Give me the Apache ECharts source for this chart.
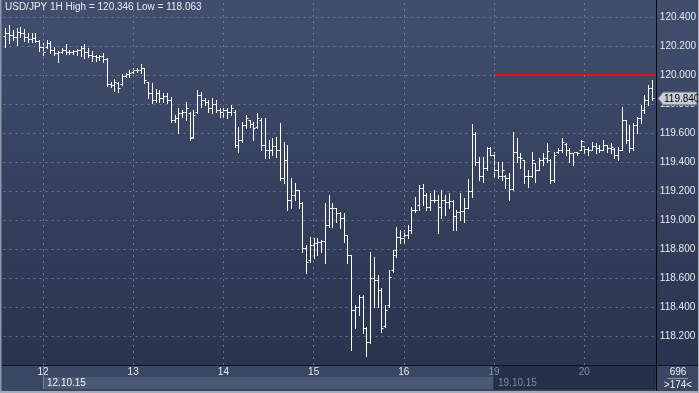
<!DOCTYPE html>
<html><head><meta charset="utf-8">
<script src="https://cdn.jsdelivr.net/npm/echarts@6/dist/echarts.min.js"></script>
<style>html,body{margin:0;padding:0;background:#2f3b57;overflow:hidden}#c{width:699px;height:393px}</style>
</head><body><div id="c"></div>
<script>
// ---- data (USD/JPY 1H) ----
const symbol = 'USD/JPY';
const timeframe = '1H';
const opens = [120.272,120.292,120.278,120.265,120.299,120.292,120.265,120.251,120.258,120.237,
120.196,120.196,120.223,120.175,120.154,120.161,120.175,120.161,120.161,120.168,
120.175,120.189,120.161,120.140,120.134,120.127,120.134,120.113,119.940,119.933,
119.947,119.940,119.995,120.009,120.023,120.037,120.037,120.051,119.954,119.878,
119.830,119.878,119.844,119.858,119.830,119.692,119.706,119.740,119.747,119.740,
119.575,119.747,119.865,119.830,119.816,119.775,119.802,119.761,119.747,119.761,
119.747,119.747,119.520,119.554,119.658,119.692,119.664,119.644,119.692,119.520,
119.485,119.485,119.513,119.485,119.292,119.416,119.140,119.175,119.209,119.119,
118.809,118.726,118.830,118.843,118.850,118.857,118.968,119.085,119.085,119.050,
119.016,118.898,118.760,118.381,118.401,118.471,118.257,118.160,118.602,118.588,
118.519,118.270,118.416,118.657,118.795,118.885,118.878,118.898,118.933,119.071,
119.105,119.223,119.175,119.092,119.140,119.140,119.092,119.140,119.126,119.133,
119.030,119.057,119.064,119.085,119.202,119.595,119.402,119.306,119.361,119.499,
119.450,119.347,119.306,119.306,119.292,119.216,119.471,119.437,119.416,119.306,
119.306,119.395,119.347,119.416,119.430,119.416,119.278,119.471,119.485,119.526,
119.485,119.464,119.471,119.485,119.513,119.492,119.485,119.513,119.499,119.485,
119.519,119.499,119.492,119.450,119.485,119.692,119.554,119.499,119.658,119.706,
119.761,119.830,119.913];
const highs = [120.327,120.346,120.313,120.327,120.333,120.319,120.292,120.292,120.292,120.244,
120.223,120.244,120.237,120.196,120.168,120.189,120.216,120.175,120.175,120.182,
120.203,120.216,120.189,120.168,120.140,120.140,120.154,120.120,119.954,119.975,
119.954,120.009,120.016,120.037,120.051,120.051,120.078,120.051,119.954,119.947,
119.906,119.899,119.878,119.878,119.851,119.727,119.775,119.761,119.816,119.747,
119.761,119.899,119.885,119.844,119.830,119.844,119.830,119.775,119.775,119.775,
119.796,119.761,119.644,119.678,119.727,119.692,119.678,119.740,119.706,119.706,
119.554,119.568,119.575,119.671,119.540,119.519,119.292,119.257,119.209,119.126,
118.830,118.885,118.878,118.878,118.864,119.119,119.175,119.119,119.085,119.057,
119.050,118.898,118.760,118.416,118.485,118.485,118.264,118.781,118.747,118.622,
118.533,118.416,118.657,118.795,118.954,118.933,118.933,118.968,119.092,119.161,
119.243,119.250,119.188,119.188,119.209,119.175,119.209,119.175,119.188,119.140,
119.071,119.188,119.154,119.285,119.664,119.609,119.437,119.437,119.506,119.506,
119.471,119.402,119.402,119.313,119.326,119.609,119.568,119.464,119.416,119.347,
119.471,119.395,119.430,119.464,119.533,119.423,119.471,119.499,119.568,119.533,
119.499,119.464,119.471,119.554,119.513,119.506,119.540,119.533,119.519,119.554,
119.519,119.533,119.499,119.506,119.781,119.692,119.658,119.671,119.713,119.795,
119.865,119.934,119.968];
const lows = [120.196,120.223,120.244,120.209,120.265,120.237,120.230,120.230,120.230,120.168,
120.140,120.189,120.154,120.140,120.092,120.154,120.147,120.147,120.147,120.140,
120.134,120.120,120.127,120.099,120.099,120.106,120.092,119.927,119.920,119.892,
119.885,119.933,119.989,119.989,120.016,120.023,120.016,119.947,119.844,119.809,
119.816,119.816,119.816,119.809,119.678,119.678,119.602,119.713,119.692,119.554,
119.568,119.740,119.782,119.796,119.747,119.740,119.747,119.713,119.713,119.706,
119.727,119.506,119.471,119.540,119.637,119.644,119.554,119.637,119.485,119.430,
119.430,119.450,119.437,119.278,119.257,119.071,119.085,119.140,119.085,118.781,
118.636,118.712,118.740,118.760,118.781,118.705,118.954,118.954,118.988,118.947,
118.850,118.705,118.105,118.257,118.346,118.222,118.063,118.153,118.402,118.402,
118.229,118.264,118.402,118.643,118.747,118.843,118.843,118.878,118.912,119.057,
119.071,119.105,119.071,119.071,119.126,118.912,119.016,119.036,119.085,118.933,
118.933,119.002,118.988,119.085,119.161,119.381,119.278,119.264,119.347,119.450,
119.299,119.292,119.278,119.223,119.140,119.209,119.402,119.361,119.257,119.230,
119.299,119.264,119.347,119.381,119.402,119.257,119.264,119.464,119.471,119.450,
119.402,119.381,119.450,119.485,119.464,119.450,119.485,119.464,119.471,119.485,
119.471,119.464,119.430,119.416,119.485,119.533,119.471,119.485,119.602,119.671,
119.740,119.796,119.830];
const closes = [120.292,120.278,120.265,120.299,120.292,120.265,120.251,120.258,120.237,120.196,
120.161,120.223,120.175,120.154,120.161,120.175,120.161,120.161,120.168,120.175,
120.189,120.161,120.140,120.134,120.127,120.134,120.113,119.940,119.933,119.954,
119.913,119.995,120.009,120.016,120.037,120.037,120.051,119.968,119.878,119.830,
119.878,119.844,119.858,119.830,119.692,119.706,119.740,119.747,119.775,119.568,
119.727,119.865,119.830,119.816,119.775,119.802,119.761,119.747,119.761,119.747,
119.775,119.520,119.554,119.658,119.706,119.664,119.637,119.706,119.520,119.485,
119.485,119.513,119.485,119.292,119.416,119.140,119.175,119.209,119.119,118.809,
118.712,118.830,118.843,118.850,118.857,118.968,119.085,119.085,119.050,119.016,
118.898,118.760,118.381,118.401,118.471,118.257,118.160,118.602,118.588,118.519,
118.257,118.381,118.609,118.760,118.885,118.878,118.898,118.933,119.071,119.071,
119.223,119.175,119.092,119.140,119.140,119.092,119.140,119.126,119.133,119.030,
119.057,119.064,119.085,119.202,119.595,119.402,119.306,119.361,119.499,119.450,
119.347,119.306,119.347,119.292,119.216,119.471,119.437,119.430,119.306,119.306,
119.416,119.347,119.416,119.430,119.478,119.278,119.450,119.485,119.540,119.485,
119.464,119.471,119.464,119.547,119.492,119.485,119.513,119.499,119.485,119.519,
119.499,119.506,119.450,119.485,119.692,119.554,119.499,119.658,119.706,119.761,
119.830,119.913,119.840];
const dayIndex = [10, 34, 58, 82, 106, 130, 154];
const dayLabels = ['12', '13', '14', '15', '16', '19', '20'];
const weekIndex = [10, 130];
const weekLabels = ['12.10.15', '19.10.15'];
const levelIndex = 130;       // start of red level line
const levelValue = 120.000;
const barCountText = '696';
const visibleText = '>174<';
// ---------------------------

const cats = closes.map((_, i) => String(i));
const hi = Math.max.apply(null, highs), lo = Math.min.apply(null, lows);
const FONT = '"Liberation Sans", Arial, sans-serif';
const chart = echarts.init(document.getElementById('c'), null, {renderer: 'canvas', width: 699, height: 393});

const gridCol = 'rgba(120,138,175,0.75)';
const splitCols = ['rgba(0,0,0,0)'];
for (let k = 0; k < 12; k++) splitCols.push(gridCol);
splitCols.push('rgba(0,0,0,0)');

const option = {
  animation: false,
  backgroundColor: {type: 'linear', x: 0, y: 0, x2: 0, y2: 1,
    colorStops: [{offset: 0, color: '#414e6d'}, {offset: 1, color: '#27324c'}]},
  grid: {left: 3.48, top: 0, width: 651.2, height: 365},
  xAxis: {
    type: 'category', data: cats, boundaryGap: true,
    axisLine: {show: false}, axisTick: {show: false}, splitLine: {show: false},
    axisLabel: {
      interval: (i) => dayIndex.indexOf(i) >= 0,
      formatter: (v, i) => {
        const k = dayIndex.indexOf(Number(v));
        if (k < 0) return '';
        return (Number(v) >= weekIndex[1] ? '{g|' : '{d|') + dayLabels[k] + '}';
      },
      margin: 2,
      rich: {
        d: {color: '#e6eaf1', fontSize: 10, fontFamily: FONT},
        g: {color: '#8892a8', fontSize: 10, fontFamily: FONT}
      }
    }
  },
  yAxis: {
    type: 'value', position: 'right', min: 118, max: 120.52, interval: 0.2,
    axisLine: {show: false}, axisTick: {show: false},
    axisLabel: {showMinLabel: false, showMaxLabel: false, margin: 6, color: '#e6eaf1',
      fontSize: 10, fontFamily: FONT, formatter: (v) => v.toFixed(3)},
    splitLine: {lineStyle: {color: splitCols, type: [2, 4], width: 1}}
  },
  series: [
    {
      type: 'custom', z: 1, silent: true,
      data: [[levelIndex, levelValue]],
      encode: {x: 0, y: 1},
      renderItem: (params, api) => {
        const p = api.coord([api.value(0), api.value(1)]);
        const cs = params.coordSys;
        return {type: 'rect', shape: {x: Math.round(p[0]), y: Math.round(p[1]) - 1, width: cs.x + cs.width + 1 - Math.round(p[0]), height: 2},
          style: {fill: '#e0141e'}};
      },
      markLine: {
        silent: true, symbol: 'none', label: {show: false}, animation: false,
        lineStyle: {color: gridCol, type: [2, 4], width: 1},
        data: dayIndex.map((i) => ({xAxis: i}))
      }
    },
    {
      type: 'custom', z: 3, silent: true, clip: false,
      data: closes.map((c, i) => [i, opens[i], highs[i], lows[i], c]),
      encode: {x: 0, y: [1, 2, 3, 4]},
      renderItem: (params, api) => {
        const i = api.value(0);
        const o = api.coord([i, api.value(1)]);
        const h = api.coord([i, api.value(2)]);
        const l = api.coord([i, api.value(3)]);
        const c = api.coord([i, api.value(4)]);
        const x = Math.round(h[0]) + 0.5;
        const yh = Math.round(h[1]), yl = Math.round(l[1]) + 1;
        const yo = Math.round(o[1]) + 0.5, yc = Math.round(c[1]) + 0.5;
        const st = {stroke: '#ffffff', lineWidth: 1};
        return {type: 'group', children: [
          {type: 'line', shape: {x1: x, y1: yh, x2: x, y2: yl}, style: st},
          {type: 'line', shape: {x1: x - 2, y1: yo, x2: x - 0.5, y2: yo}, style: st},
          {type: 'line', shape: {x1: x + 0.5, y1: yc, x2: x + 2, y2: yc}, style: st}
        ]};
      }
    }
  ]
};
chart.setOption(option);

const px = (i) => chart.convertToPixel({xAxisIndex: 0}, String(i));
const py = chart.convertToPixel({yAxisIndex: 0}, closes[closes.length - 1]);
const x1 = Math.round(px(weekIndex[0])), x2 = Math.round(px(weekIndex[1]));
const stripTop = 365, stripBot = 391;

chart.setOption({graphic: [
  // title
  {type: 'text', left: 5, top: 2, z: 50, style: {text: symbol + ' ' + timeframe + ' High = ' + hi.toFixed(3) + ' Low = ' + lo.toFixed(3),
    fill: '#e8ecf2', font: '10px ' + FONT}},
  // bottom strip
  {type: 'rect', z: -1, shape: {x: 0, y: stripTop, width: 699, height: stripBot - stripTop}, style: {fill: '#3a4763'}},
  {type: 'rect', z: 0, shape: {x: x1, y: 377, width: x2 - x1, height: 12}, style: {fill: '#4b5975'}},
  {type: 'rect', z: 0, shape: {x: x2, y: stripTop + 1, width: 655 - x2, height: 23}, style: {fill: '#263049', stroke: '#1d2538', lineWidth: 1}},
  {type: 'line', z: 1, shape: {x1: x1 + 0.5, y1: stripTop + 1, x2: x1 + 0.5, y2: 389}, style: {stroke: '#7382a0', lineWidth: 1}},
  {type: 'line', z: 1, shape: {x1: 0, y1: stripTop + 0.5, x2: 699, y2: stripTop + 0.5}, style: {stroke: '#101522', lineWidth: 1}},
  {type: 'text', z: 5, style: {x: x1 + 4, y: 383, text: weekLabels[0], fill: '#eef1f6', font: '10px ' + FONT, textVerticalAlign: 'middle'}},
  {type: 'text', z: 5, style: {x: x2 + 4, y: 383, text: weekLabels[1], fill: '#7f89a0', font: '10px ' + FONT, textVerticalAlign: 'middle'}},
  // right panel divider
  {type: 'line', z: 10, shape: {x1: 656.5, y1: 0, x2: 656.5, y2: stripBot}, style: {stroke: '#05070c', lineWidth: 1}},
  // bottom-right info
  {type: 'text', z: 5, style: {x: 678, y: 372, text: barCountText, fill: '#eef1f6', font: '10px ' + FONT, textAlign: 'center', textVerticalAlign: 'middle'}},
  {type: 'line', z: 5, shape: {x1: 667, y1: 378.5, x2: 688, y2: 378.5}, style: {stroke: '#8f99ad', lineWidth: 1}},
  {type: 'text', z: 5, style: {x: 678, y: 385, text: visibleText, fill: '#eef1f6', font: '10px ' + FONT, textAlign: 'center', textVerticalAlign: 'middle'}},
  // last price label
  {type: 'polygon', z: 60, shape: {points: [[658, py], [663, py - 6.5], [697, py - 6.5], [697, py + 6.5], [663, py + 6.5]]},
    style: {fill: '#c8ccd3', stroke: '#5d6573', lineWidth: 1}},
  {type: 'text', z: 61, style: {x: 664, y: py + 0.5, text: closes[closes.length - 1].toFixed(3), fill: '#000', font: '10px ' + FONT, textVerticalAlign: 'middle'}},
  // outer frame
  {type: 'rect', z: 70, shape: {x: 0, y: 0, width: 1.5, height: 393}, style: {fill: '#8e98ab'}},
  {type: 'rect', z: 70, shape: {x: 698, y: 0, width: 1, height: 393}, style: {fill: '#a4acba'}},
  {type: 'rect', z: 70, shape: {x: 0, y: stripBot, width: 699, height: 2}, style: {fill: '#a4acba'}}
]});
</script>
</body></html>
